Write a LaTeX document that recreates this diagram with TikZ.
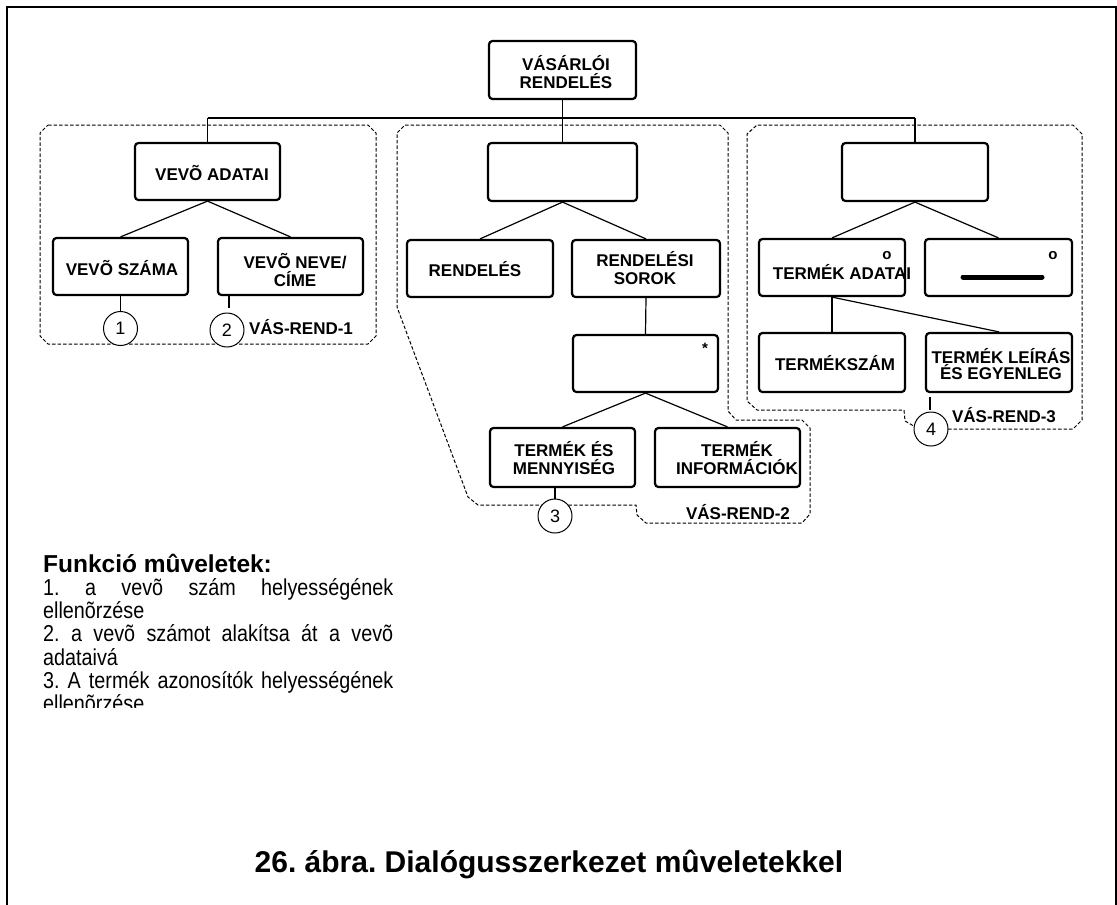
\documentclass[tikz,border=0pt]{standalone}
\usepackage{fontspec}
\setmainfont{Liberation Sans}
\newfontfamily\listfont[FakeStretch=0.86]{Liberation Sans}
\frenchspacing
\begin{document}
\begin{tikzpicture}[x=1pt,y=-1pt,
  box/.style={draw, line width=2.2pt, rounded corners=3.5pt, fill=white, inner sep=0pt},
  lbl/.style={font=\bfseries\fontsize{17}{18}\selectfont, align=center, inner sep=0pt},
  link/.style={line width=1.2pt},
  grp/.style={line width=1pt, dash pattern=on 3.5pt off 2pt, line join=round},
  num/.style={draw, circle, line width=1pt, fill=white, minimum size=34pt, inner sep=0pt,
    font=\fontsize{18}{18}\selectfont},
  tag/.style={font=\bfseries\fontsize{17}{18}\selectfont, inner sep=0pt},
  mark0/.style={font=\bfseries\fontsize{15}{15}\selectfont, inner sep=0pt},
  body/.style={font=\listfont\fontsize{23}{23.3}\selectfont, inner sep=0pt, anchor=base west},
]
\useasboundingbox (0,0) rectangle (1117,905);

% outer frame
\draw[line width=2pt] (6.5,905) -- (6.5,6.5) -- (1115.5,6.5) -- (1115.5,905);

% dashed groups
\draw[grp] (48,125) -- (368,125) -- (376,133) -- (376,336) -- (368,344)
  -- (48,344) -- (40,336) -- (40,133) -- cycle;
\draw[grp] (405,125) -- (720,125) -- (728,133) -- (728,411) -- (736,420)
  -- (802,420) -- (810,428) -- (810,514) -- (802,523) -- (646,523)
  -- (637,515) -- (636,505) -- (478,505) -- (468,497) -- (397,307)
  -- (397,133) -- cycle;
\draw[grp] (948,429) -- (1073,429) -- (1082,420) -- (1082,134) -- (1073,125)
  -- (757,125) -- (747,134) -- (747,401) -- (757,410) -- (904,410)
  -- (905,421) -- (912,425) -- (915,428);

% boxes
\node[box, minimum width=147, minimum height=58] (top) at (562.5,70) {};
\node[box, minimum width=145, minimum height=57] (vad) at (207.5,171.5) {};
\node[box, minimum width=135, minimum height=57] (vsz) at (120.5,266.5) {};
\node[box, minimum width=145, minimum height=57] (vnc) at (290.5,266.5) {};
\node[box, minimum width=149, minimum height=58] (mtop) at (562.5,172) {};
\node[box, minimum width=146, minimum height=57] (rend) at (480,268.5) {};
\node[box, minimum width=148, minimum height=57] (rsor) at (646,268.5) {};
\node[box, minimum width=145, minimum height=57] (star) at (645.5,363.5) {};
\node[box, minimum width=145, minimum height=59] (tem) at (562.5,457.5) {};
\node[box, minimum width=145, minimum height=59] (tinf) at (727.5,457.5) {};
\node[box, minimum width=146, minimum height=58] (rtop) at (915,172) {};
\node[box, minimum width=146, minimum height=57] (tad) at (832,267.5) {};
\node[box, minimum width=147, minimum height=57] (zero) at (998.5,267.5) {};
\node[box, minimum width=146, minimum height=59] (tsz) at (832,362.5) {};
\node[box, minimum width=146, minimum height=59] (tle) at (999,362.5) {};

% tree connectors
\coordinate (bl) at (207.5,118);
\coordinate (bm) at (562.5,118);
\coordinate (br) at (915,118);
\draw[link] (top.south) -- (bm);
\draw[link] (bl) -- (br);
\draw[link] (bl) -- (vad.north);
\draw[link] (bm) -- (mtop.north);
\draw[link] (br) -- (rtop.north);
\draw[link] (vad.south) -- (vsz.north);
\draw[link] (vad.south) -- (vnc.north);
\draw[link] (mtop.south) -- (rend.north);
\draw[link] (mtop.south) -- (rsor.north);
\draw[link] (rsor.south) -- (star.north);
\draw[link] (star.south) -- (tem.north);
\draw[link] (star.south) -- (tinf.north);
\draw[link] (rtop.south) -- (tad.north);
\draw[link] (rtop.south) -- (zero.north);
\draw[link] (tad.south) -- (tsz.north);
\draw[link] (tad.south) -- (tle.north);

% box texts
\node[lbl] (top-t) at (566,72) {VÁSÁRLÓI\\RENDELÉS};
\node[lbl] (vad-t) at (212,173) {VEVÕ ADATAI};
\node[lbl] (vsz-t) at (122,268) {VEVÕ SZÁMA};
\node[lbl] (vnc-t) at (295,270) {VEVÕ NEVE/\\CÍME};
\node[lbl] (rend-t) at (475,269) {RENDELÉS};
\node[lbl] (rsor-t) at (645,268) {RENDELÉSI\\SOROK};
\node[mark0] (star-t) at (705,348) {*};
\node[lbl] (tem-t) at (564,458) {TERMÉK ÉS\\MENNYISÉG};
\node[lbl] (tinf-t) at (737,458) {TERMÉK\\INFORMÁCIÓK};
\node[lbl] (tad-t) at (842,272) {TERMÉK ADATAI};
\node[mark0] (tad-o) at (887,256) {o};
\node[mark0] (zero-o) at (1053,256) {o};
\coordinate (barl) at (963,277);
\coordinate (barr) at (1042,277);
\draw[line width=5pt, line cap=round] (barl) -- (barr);
\node[lbl] (tsz-t) at (835,363) {TERMÉKSZÁM};
\node[lbl, font=\bfseries\fontsize{17}{13}\selectfont] (tle-t) at (1001,364) {TERMÉK LEÍRÁS\\ÉS EGYENLEG};

% numbered operations
\node[num] (c1) at (120.5,328.5) {1};
\node[num] (c2) at (227,330) {2};
\node[num] (c3) at (555,516) {3};
\node[num] (c4) at (931,429) {4};
\coordinate (c2a) at (229,295);
\coordinate (c2b) at (229,308);
\coordinate (c4a) at (930,397);
\coordinate (c4b) at (930,410);
\draw[link] (vsz.south) -- (c1.north);
\draw[link] (c2a) -- (c2b);
\draw[link] (c3.north |- tem.south) -- (c3.north);
\draw[link] (c4a) -- (c4b);

% group tags
\node[tag] (g1) at (301,327) {VÁS-REND-1};
\node[tag] (g2) at (738,512) {VÁS-REND-2};
\node[tag] (g3) at (1004,415) {VÁS-REND-3};

% operations list
\node[inner sep=0pt, anchor=base west, font=\bfseries\fontsize{24.5}{24.5}\selectfont] (fh) at (43,572) {Funkció mûveletek:};
\node[body] (f1) at (43,595) {\makebox[350pt][s]{1. a vevõ szám helyességének}};
\node[body] (f2) at (43,618.3) {ellenõrzése};
\node[body] (f3) at (43,641.6) {\makebox[350pt][s]{2. a vevõ számot alakítsa át a vevõ}};
\node[body] (f4) at (43,665) {adataivá};
\node[body] (f5) at (43,688) {\makebox[350pt][s]{3. A termék azonosítók helyességének}};
\begin{scope}
  \clip (0,690) rectangle (1117,707);
  \node[body] (f6) at (43,711.3) {ellenõrzése};
\end{scope}

% caption
\node[inner sep=0pt, anchor=base, font=\bfseries\fontsize{30}{30}\selectfont] (cap) at (549,872) {26. ábra. Dialógusszerkezet mûveletekkel};
\end{tikzpicture}
\end{document}
